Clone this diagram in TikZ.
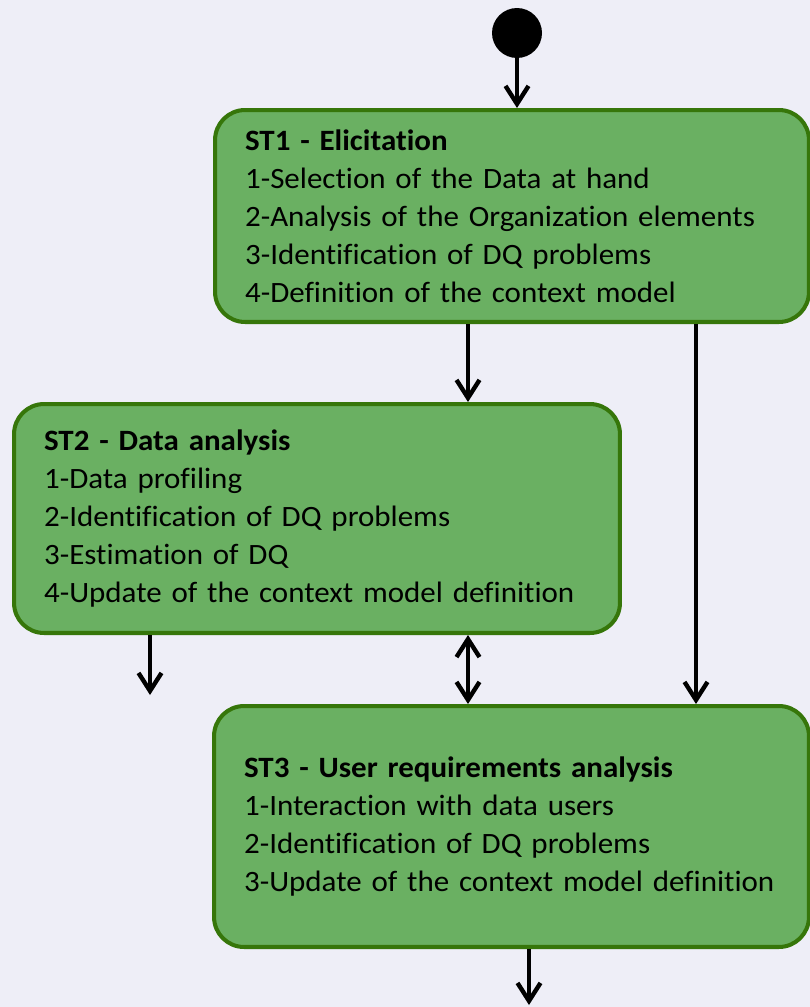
\documentclass[tikz,border=0pt]{standalone}
\usepackage{fontspec}
\setmainfont{Carlito}[Ligatures=NoCommon, FakeStretch=1.05]
\usetikzlibrary{arrows.meta,calc}
\hyphenpenalty=10000

\definecolor{pagebg}{RGB}{238,238,247}
\definecolor{stagefill}{RGB}{106,176,98}
\definecolor{stageline}{RGB}{54,118,10}

\begin{document}
\begin{tikzpicture}[x=0.02cm,y=-0.02cm,
	stage/.style={draw=stageline, fill=stagefill, line width=2.3pt,
		rounded corners=0.6cm, align=left, inner xsep=0.6cm, inner ysep=0pt,
		font=\fontsize{16.8}{21.6}\selectfont, anchor=center},
	arr/.style={line width=2.5pt, -{Straight Barb[length=0.36cm,width=0.46cm]}},
	biarr/.style={line width=2.5pt, {Straight Barb[length=0.36cm,width=0.46cm]}-{Straight Barb[length=0.36cm,width=0.46cm]}}]
	\fill[pagebg] (0,0) rectangle (810,1007);
	\useasboundingbox (0,0) rectangle (810,1007);
	% initial state
	\node[circle, fill=black, minimum size=1cm, inner sep=0pt] (start) at (517,33) {};
	% stages
	\node[stage, text width=10.68cm, minimum height=4.24cm] (st1) at (512,216)
	{\textbf{ST1 - Elicitation}\\
	1-Selection of the Data at hand\\
	2-Analysis of the Organization elements\\
	3-Identification of DQ problems\\
	4-Definition of the context model};
	\node[stage, text width=10.92cm, minimum height=4.58cm] (st2) at (317,518.5)
	{\textbf{ST2 - Data analysis}\\
	1-Data profiling\\
	2-Identification of DQ problems\\
	3-Estimation of DQ\\
	4-Update of the context model definition};
	\node[stage, text width=10.7cm, minimum height=4.82cm] (st3) at (511.5,826.5)
	{\textbf{ST3 - User requirements analysis}\\
	1-Interaction with data users\\
	2-Identification of DQ problems\\
	3-Update of the context model definition};
	% connectors
	\coordinate (c12) at ($(st1.south)+(-44,0)$);
	\coordinate (c13) at ($(st1.south)+(184,0)$);
	\coordinate (out2) at (150,695);
	\coordinate (out3) at (529,1005);
	\draw[arr] (start.south) -- (start |- st1.north);
	\draw[arr] (c12) -- (c12 |- st2.north);
	\draw[arr] (c13) -- (c13 |- st3.north);
	\draw[biarr] (c12 |- st2.south) -- (c12 |- st3.north);
	\draw[arr] (out2 |- st2.south) -- (out2);
	\draw[arr] (st3.south -| out3) -- (out3);
\end{tikzpicture}
\end{document}
